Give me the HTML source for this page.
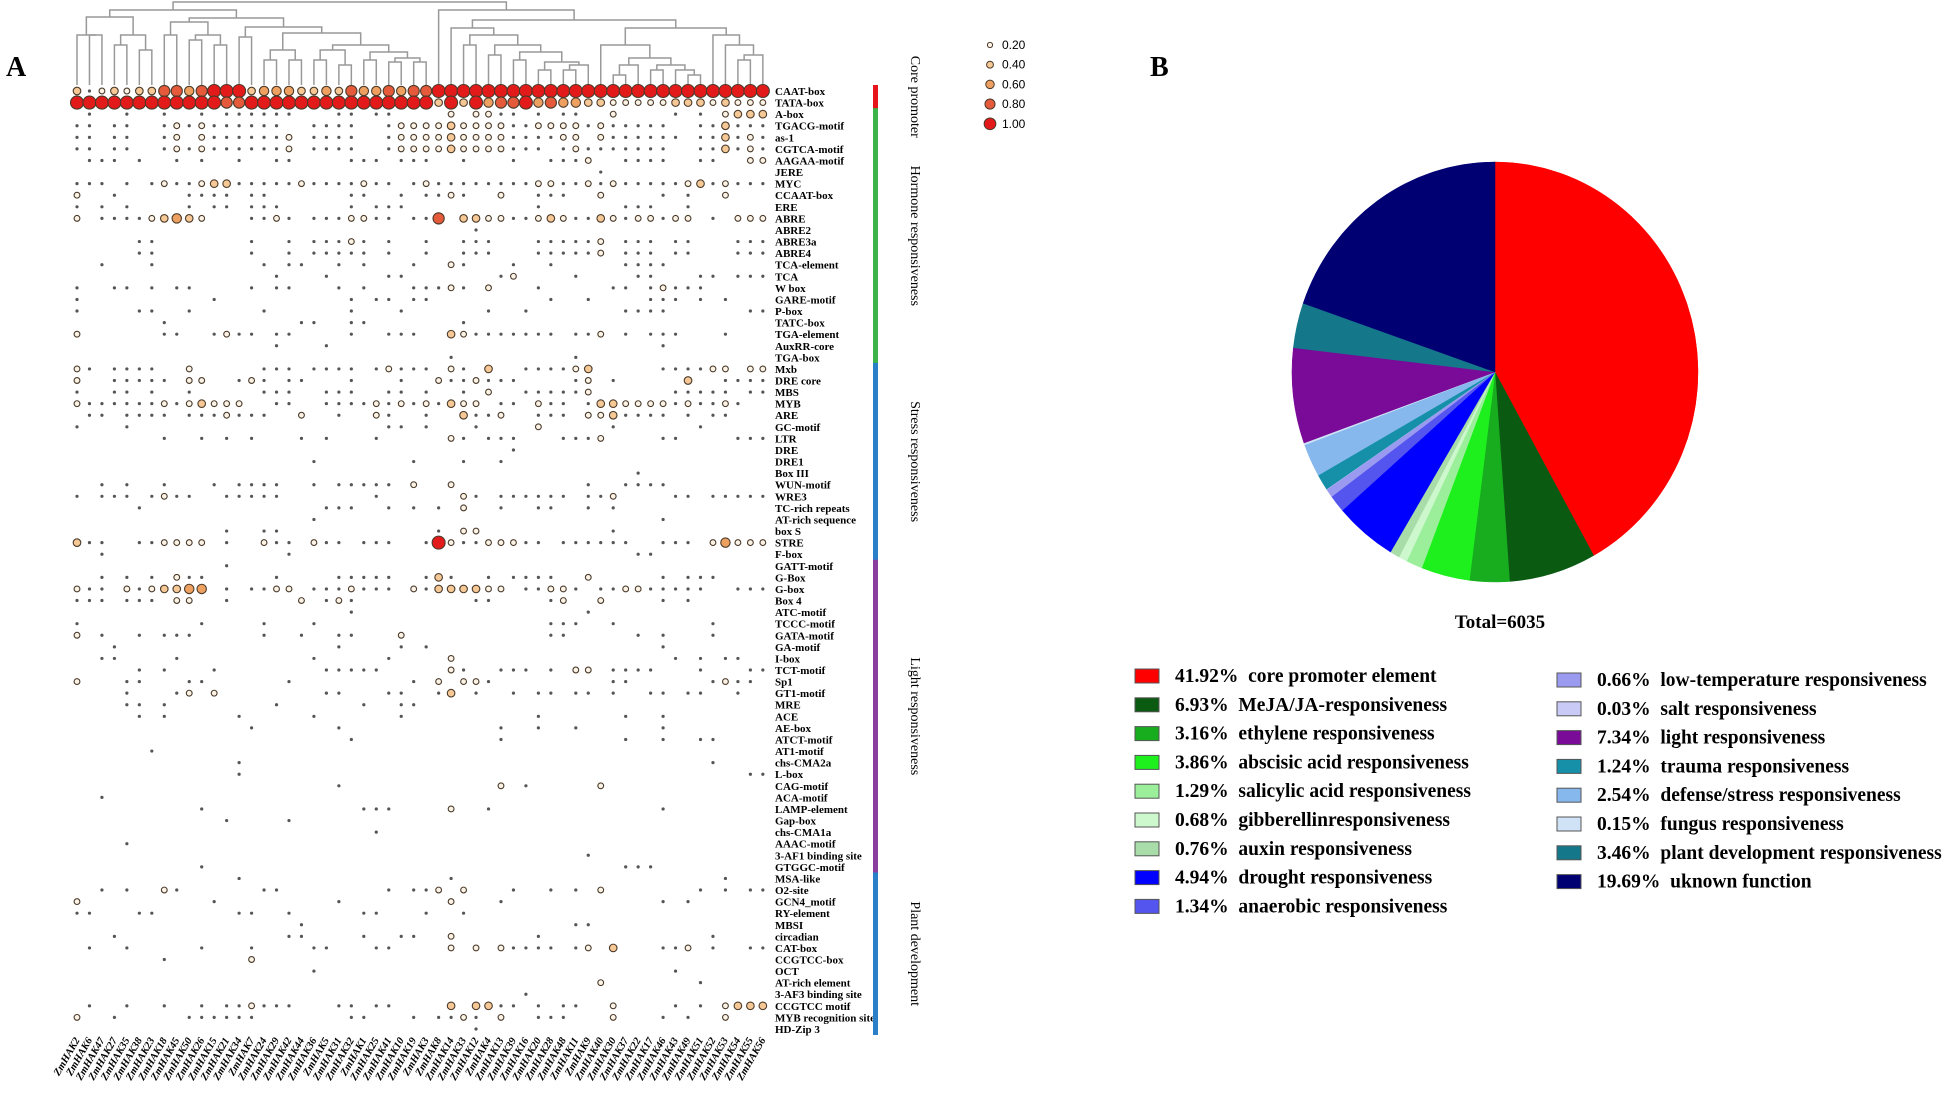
<!DOCTYPE html>
<html><head><meta charset="utf-8"><style>
html,body{margin:0;padding:0;background:#fff;}
svg{display:block;font-family:"Liberation Serif",serif;}
</style></head><body>
<svg id="fig" width="1949" height="1094" viewBox="0 0 1949 1094" xmlns="http://www.w3.org/2000/svg">
<text x="6" y="76" font-size="28" font-weight="bold">A</text>
<text x="1150" y="76" font-size="28" font-weight="bold">B</text>
<g id="dendro"></g>
<g id="matrix"></g>
<g id="rowlabels"></g>
<g id="collabels"></g>
<g id="cats"></g>
<g id="sizeleg"></g>
<g id="pie"></g>
<text x="1500" y="628" font-size="19" font-weight="bold" text-anchor="middle">Total=6035</text>
<g id="pieleg"></g>
</svg>
<script>
const NS="http://www.w3.org/2000/svg";
function mk(tag,attrs,parent){const e=document.createElementNS(NS,tag);for(const k in attrs)e.setAttribute(k,attrs[k]);parent.appendChild(e);return e;}

const rowNames=["CAAT-box","TATA-box","A-box","TGACG-motif","as-1","CGTCA-motif","AAGAA-motif","JERE","MYC","CCAAT-box","ERE","ABRE","ABRE2","ABRE3a","ABRE4","TCA-element","TCA","W box","GARE-motif","P-box","TATC-box","TGA-element","AuxRR-core","TGA-box","Mxb","DRE core","MBS","MYB","ARE","GC-motif","LTR","DRE","DRE1","Box III","WUN-motif","WRE3","TC-rich repeats","AT-rich sequence","box S","STRE","F-box","GATT-motif","G-Box","G-box","Box 4","ATC-motif","TCCC-motif","GATA-motif","GA-motif","I-box","TCT-motif","Sp1","GT1-motif","MRE","ACE","AE-box","ATCT-motif","AT1-motif","chs-CMA2a","L-box","CAG-motif","ACA-motif","LAMP-element","Gap-box","chs-CMA1a","AAAC-motif","3-AF1 binding site","GTGGC-motif","MSA-like","O2-site","GCN4_motif","RY-element","MBSI","circadian","CAT-box","CCGTCC-box","OCT","AT-rich element","3-AF3 binding site","CCGTCC motif","MYB recognition site","HD-Zip 3"];
const caatRow="31232335545666344433435445455666666666666666666666666666";
const tataRow="66666666666655666666666666666363645564544332222233323222";
const rowCells=[
"1 4 7 10 12 13 14 15 16 17 21 22 24 25 30:2 32:2 33:2 34 35 37 39 40 43:2 48 50 52:2 53:3 54:3 55:3",
"0 1 3 4 7 8:2 9 10:2 11 12 13 14 15 16 19 20 21 22 25 26:2 27:2 28:2 29:2 30:3 31:2 32:2 33:2 34:2 35 36 37:2 38:2 39:2 40:2 41 42:2 43 44 45 46 47 50 51 52:3 53 54 55",
"0 1 3 4 7 8:2 10:2 11 12 13 14 15 16 17:2 19 20 21 22 25 26:2 27:2 28:2 29:2 30:3 31:2 32:2 33:2 34:2 35 36 37 38 39:2 40:2 42:2 43 44 45 46 47 48 50 51 52:3 53 54:2 55",
"0 1 3 4 7 8:2 9 10:2 11 12 13 14 15 16 17:2 19 20 21 22 25 26:2 27:2 28:2 29:2 30:3 31:2 32:2 33:2 34:2 35 36 37 39 40:2 41 42 43 44 45 46 47 50 51 52:3 53 54:2 55",
"1 2 3 5 8 10 13 16 17 22 23 24 26 27 28 31 35 38 39 40 41:2 44 45 46 47 50 51 54:2 55:2",
"42",
"0 1 2 4 6 7:2 8 9 10:2 11:3 12:3 13 14 15 16 17 18:2 19 20 21 22 23:2 24 25 27 28:2 29 30 31 32 33 34 35 36 37:2 38:2 39 40 41:2 42 43:2 44 45 46 47 48 49:2 50:3 51 52:2 53 54 55",
"0:2 3 9 10 11 12 14 15 22 23 26 28 29 30:2 31 34:2 37 38 39 42:2 47 49 52:2",
"0 2 4 9 11 12 14 15 16 22 24 25 26 37 44 45 46 49",
"0:2 2 3 4 5 6:2 7:3 8:4 9:3 10:2 14 15 16:2 17 19 20 21 22:2 23:2 24 25 27 28 29:5 31:3 32:3 33:2 34:2 35 36 37:2 38:3 39:2 40 41 42:3 43:2 44 45:2 46:2 47 48:2 49:2 51 53:2 54:2 55:2",
"32",
"5 6 14 17 19 20 21 22:2 23 25 28 31 32 33 37 38 39 40 41 42:2 44 45 46 48 49 53 54 55",
"5 6 14 17 19 20 21 22 23 25 28 31 32 33 37 38 39 40 41 42:2 44 45 46 48 49 53 54 55",
"2 6 15 17 18 21 23 27 30:2 31 35 38 44 45 46 47",
"16 20 25 26 34 35:2 40 45 46 50 51 53 54 55",
"0 3 4 6 8 9 14 16 17 21 23 27 28 29 30:2 31 33:2 37 43 44 46 47:2 48 49 50",
"0 11 22 24 25 27 28 38 41 46 47 48 50 52",
"0 5 6 9 15 22 26 33 36 44 45 46 47 54 55",
"7 18 19 22 23 31",
"0:2 7 8 11 12:2 13 14 16 17 22 25 26 27 30:3 31:2 32 33 34 35 36 37 38 40 41 42:2 44 46 47 48 52",
"16 20 47",
"30 40",
"0:2 1 3 4 5 6 9:2 15 16 17 19 20 21 22 24 25:2 26 27 28 30:2 31 33:3 36 37 38 39 40:2 41:3 47 48 49 50 51:2 52:2 54:2 55:2",
"0:2 3 4 5 6 7 9:2 10:2 13 14:2 15 17 18 22 26 29:2 30 31 32:2 33 34 35 40 41:2 43 49:3 52 53 54 55",
"0 3 4 6 9 15 16 17 20 21 22 25 26 28 31 33:2 36 37 38 39 40 41:2 48 49 50 51 52 54 55",
"0:2 1 2 3 4 5 6 7:2 8 9:2 10:3 11:2 12:2 13:2 16 17 20 21 22 23 24:2 25 26:2 27 28:2 29 30:3 31:2 32:2 34 35 37:2 38 39 41 42:3 43:3 44:2 45:2 46:2 47:2 48 49:2 50 51 52:2 53",
"1 2 4 5 6 7 9 10 11 12:2 13 14 15 18:2 21 24:2 25 28 31:3 32 33 34:2 37 38 39 41:2 42:2 43:3 44 45 46 47 49 51 52",
"0 4 25 26 28 32 37:2 43 50",
"7 10 12 14 18 20 24 30:2 31 33 34 35 39 40 41 42:2 47 48 53 54 55",
"35",
"19 27 31 34",
"45",
"2 4 7 11 13 14 15 16 19 21 22 23 24 25 27:2 30:2 41 44 45 46 47",
"0 2 3 4 6 7:2 8 9 12 13 14 15 16 24 31:2 32 34 35 36 37 38 39 41 42 43:2 48 49 51 52 53 54 55",
"5 20 21 22 25 27 29 31:2 34 37 38 41 43",
"19 47",
"12 15 16 29 31:2 32:2 43",
"0:3 1 2 5 6 7:2 8:2 9:2 10:2 12 15:2 16 17 19:2 20 21 23 24 25 28 29:6 30:2 31 32 33:2 34:2 35:2 36 37 39 40 41 42 43 44 47 48 49 51:2 52:4 53:2 54:2 55:2",
"2 17 45 46",
"12",
"2 4 6 8:2 9 10 16 21 22 23 24 25 28 29:3 30 33 35 36 37 38 41:2 47 49 50 51",
"0:2 1 2 4:2 5 6:2 7:3 8:3 9:4 10:4 12 14 15 16:2 17:2 19 20 21 22:2 23 24 25 27:2 28 29:3 30:3 31:3 32:3 33:2 34:2 36 37 38:2 39:2 40 42 43 44:2 45:2 46 47 48 49 50 53 54 55",
"0 1 2 4 5 6 8:2 9:2 12 18:2 20 21:2 22 32 33 38 39:2 42:2 47 49",
"22 41",
"0 10 15 19 38 39 40 43 51",
"0:2 2 5 7 8 9 15 18 21 22 26:2 38 39 45 47 51",
"3 21 26 28 47",
"2 3 8 19 25 30:2 48 50 52 53",
"5 7 11 20 21 22 23 24 30:2 31 34 35 36 38 40:2 41:2 43 44 45 46 50 54 55",
"0:2 4 5 9 10 17 27 29:2 31:2 32:2 33 43 44 51 52:2 53 54",
"4 8 9:2 11:2 20 21 25 26 29 30:3 32 35 37 38 40 41 43 46 47 49 50 53",
"4 5 7 16 23 26 27",
"5 7 13 19 26 37 44 47",
"14 21 34 37 40 47",
"22 34 44 47 50 51",
"6",
"13 51",
"13 54 55",
"21 34:2 36 42:2",
"2",
"10 23 24 25 30:2 33 47",
"12 17",
"24",
"4",
"41",
"10 44 45 46",
"13 30 52",
"2 4 7:2 8 15 16 25 27 28 29:2 31:2 35 38 40 42:2 50 52 54 55",
"0:2 11 21 30:2 34 47 49",
"0 1 5 6 13 14 17 23 24 28 31",
"18 40 41",
"3 17 18 23 26 27 30:2 37 51",
"1 4 10 14 19 20 24 25 30:2 32:2 34:2 35 36 37 38 40 41:2 43:3 47 48 49:2 51 54 55",
"7 14:2",
"19 48",
"42:2 50",
"36",
"1 4 7 10 12 13 14:2 15 16 17 21 22 24 25 30:3 32:3 33:3 34 35 37 39 40 43:2 48 50 52:2 53:3 54:3 55:3",
"0:2 3 9 10 11 12 13 14 22 23 27 29 30 31:2 32 34:2 37 38 39 43:2 47 49 52:2",
"32"
];
const sizeValues=[0,0.1,0.2,0.4,0.6,0.8,1.0];
const colNumbers=[2,6,47,27,35,38,23,18,45,50,26,15,21,34,7,24,29,42,44,36,5,31,32,1,25,41,10,19,3,8,14,33,12,4,13,39,16,20,28,48,11,9,40,30,37,22,17,46,43,49,51,52,53,54,55,56];
const legendValues=[0.2,0.4,0.6,0.8,1.0];
const legendLabels=["0.20","0.40","0.60","0.80","1.00"];
const categories=["Core promoter","Hormone responsiveness","Stress responsiveness","Light responsiveness","Plant development"];
const catStartRow=[0,2,24,41,68];
const catEndRow=[1,23,40,67,81];
const catColors=["#e8141c","#3cb44a","#2a7fc9","#8a3f9e","#2a7fc9"];

const X0=77,DX=12.47,Y0=91,DY=11.58;
const xCol=c=>X0+c*DX, yRow=r=>Y0+r*DY;
const rOf=v=>2+4.5*v;
function colorOf(v){
  const stops=[[0.2,[253,244,232]],[0.4,[246,200,150]],[0.6,[238,160,96]],[0.8,[230,90,60]],[1.0,[226,26,26]]];
  if(v<=0.2)return "rgb(253,244,232)";
  for(let i=1;i<stops.length;i++){if(v<=stops[i][0]){const a=stops[i-1],b=stops[i],t=(v-a[0])/(b[0]-a[0]);return "rgb("+a[1].map((x,k)=>Math.round(x+(b[1][k]-x)*t)).join(",")+")";}}
  return "rgb(226,26,26)";
}
function parseRow(r){
  if(r===0)return caatRow.split("").map((d,i)=>[i,+d]).filter(p=>p[1]>0);
  if(r===1)return tataRow.split("").map((d,i)=>[i,+d]).filter(p=>p[1]>0);
  const s=rowCells[r-2]||"";return s.split(" ").filter(Boolean).map(t=>{const p=t.split(":");return [+p[0],p[1]?+p[1]:1];});
}
const mat=document.getElementById("matrix");
for(let r=0;r<rowNames.length;r++){
  for(const [c,code] of parseRow(r)){
    if(c>55)continue;
    const v=sizeValues[code];let e;
    if(code===1){e=mk("circle",{cx:xCol(c),cy:yRow(r),r:1.6,fill:"#555"},mat);}
    else{e=mk("circle",{cx:xCol(c),cy:yRow(r),r:rOf(v),fill:colorOf(v),stroke:"#4a3a2a","stroke-width":1.1},mat);}
    
    
  }
}
const rl=document.getElementById("rowlabels");
rowNames.forEach((n,r)=>{const t=mk("text",{x:775,y:yRow(r)+4,"font-size":11,"font-weight":"bold"},rl);t.textContent=n;
  
  });
const cl=document.getElementById("collabels");
colNumbers.forEach((n,c)=>{const x=xCol(c)+3,y=1040;const t=mk("text",{x:x,y:y,"font-size":10.5,"font-weight":"bold","font-style":"italic","text-anchor":"end",transform:"rotate(-60 "+x+" "+y+")"},cl);t.textContent="ZmHAK"+n;
  
  });
const tree=[2,[10,[17,[35,0,[35,1,2]],[35,[45,3,4],[50,5,6]]],[18,[22,[35,7,8],[35,[40,9,10],[45,11,12]]],[27,[37,13,14],[33,[50,[60,15,16],[60,17,18]],[45,[50,[60,19,20],[65,21,22]],[52,[60,23,24],[58,[62,25,26],[62,27,28]]]]]]]],[10,29,[20,[28,30,[35,[45,31,32],[45,[55,33,34],[52,[60,35,36],[62,[70,37,38],[65,[70,39,40],41]]]]]],[28,[45,42,[58,[65,[75,43,44],45],[65,[70,46,47],[70,48,[75,49,50]]]]],[35,51,[45,52,[55,[60,53,54],55]]]]]]];
const dg=document.getElementById("dendro");const LEAFY=85;
function draw(n){
  if(typeof n==="number")return [xCol(n),LEAFY];
  const a=draw(n[1]),b=draw(n[2]),y=n[0];
  const p=mk("path",{d:`M${a[0]},${a[1]}V${y}H${b[0]}V${b[1]}`,fill:"none",stroke:"#999","stroke-width":1.5},dg);
  
  
  return [(a[0]+b[0])/2,y];
}
draw(tree);
const cg=document.getElementById("cats");
categories.forEach((c,i)=>{const y1=yRow(catStartRow[i])-6,y2=yRow(catEndRow[i])+6;
  const b=mk("rect",{x:873,y:y1,width:5,height:y2-y1,fill:catColors[i]},cg);
  
  
  const cy=(y1+y2)/2;const t=mk("text",{x:911,y:cy,"font-size":14,"text-anchor":"middle",transform:"rotate(90 911 "+cy+")"},cg);t.textContent=c;
  
  });
const sl=document.getElementById("sizeleg");
legendValues.forEach((v,i)=>{const y=45+i*19.7;const c=mk("circle",{cx:990,cy:y,r:rOf(v)*0.9,fill:colorOf(v),stroke:"#4a3a2a","stroke-width":1},sl);
  
  
  const t=mk("text",{x:1002,y:y+4,"font-size":12,"font-family":"Liberation Sans, sans-serif"},sl);t.textContent=legendLabels[i];
  
  });

const pieLabels=["core promoter element","MeJA/JA-responsiveness","ethylene responsiveness","abscisic acid responsiveness","salicylic acid responsiveness","gibberellinresponsiveness","auxin responsiveness","drought responsiveness","anaerobic responsiveness","low-temperature responsiveness","salt responsiveness","light responsiveness","trauma responsiveness","defense/stress responsiveness","fungus responsiveness","plant development responsiveness","uknown function"];
const piePercents=[41.92,6.93,3.16,3.86,1.29,0.68,0.76,4.94,1.34,0.66,0.03,7.34,1.24,2.54,0.15,3.46,19.69];
const pieColors=["#ff0000","#0b5a12","#17ad1f","#1ef01e","#9bef9b","#cdf7cd","#a8dca8","#0000ff","#5454ee","#9a9af0","#cacaf6","#7a0a98","#1590a8","#86b8ee","#cfe2f6","#14788a","#000073"];
const pieOrder=[0,1,2,3,4,5,6,7,8,9,10,12,13,14,11,15,16];
const pg=document.getElementById("pie");const CX=1495,CY=372,RX=203,RY=210;
const total=piePercents.reduce((a,b)=>a+b,0);let acc=0;
pieOrder.forEach(i=>{const a0=acc/total*2*Math.PI;acc+=piePercents[i];const a1=acc/total*2*Math.PI;
  const p0=[CX+RX*Math.sin(a0),CY-RY*Math.cos(a0)],p1=[CX+RX*Math.sin(a1),CY-RY*Math.cos(a1)];
  const large=(a1-a0)>Math.PI?1:0;
  const s=mk("path",{d:`M${CX},${CY}L${p0[0]},${p0[1]}A${RX},${RY} 0 ${large} 1 ${p1[0]},${p1[1]}Z`,fill:pieColors[i],stroke:pieColors[i],"stroke-width":0.5},pg);
  
  });
const lg=document.getElementById("pieleg");
pieLabels.forEach((l,i)=>{const left=i<9;const k=left?i:i-9;const bx=left?1135:1557,by=(left?676:680)+k*28.8;
  const b=mk("rect",{x:bx,y:by-7,width:24,height:14,fill:pieColors[i],stroke:"#555","stroke-width":1},lg);
  
  
  const t=mk("text",{x:bx+40,y:by+6,"font-size":19.5,"font-weight":"bold"},lg);
  t.style.whiteSpace="pre";t.textContent=piePercents[i].toFixed(2)+"%  "+l;
  
  });
</script>
</body></html>
